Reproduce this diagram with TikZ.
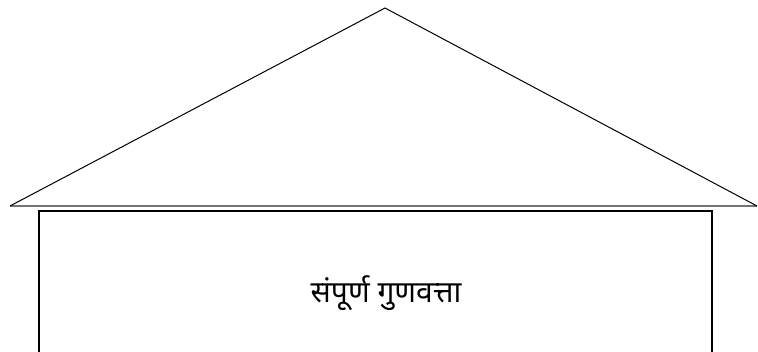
\documentclass[tikz,border=0pt]{standalone}
\usepackage{fontspec}
\newfontfamily\devfont[Script=Devanagari]{Noto Sans}
\usetikzlibrary{calc}
\tikzset{
  roofline/.style={line width=1pt,line join=miter},
  eaveline/.style={line width=1.6pt,black!55},
  wallline/.style={line width=1.4pt},
  walltext/.style={font=\devfont\fontsize{30}{34}\selectfont}
}

\begin{document}
\begin{tikzpicture}[x=1pt,y=-1pt]
  \useasboundingbox (0,0) rectangle (758,352);
  % roof
  \coordinate (apex) at (385,8);
  \coordinate (eaveL) at (10,206);
  \coordinate (eaveR) at (757,206);
  \draw[eaveline] (eaveL) -- (eaveR);
  \draw[roofline] (eaveL) -- (apex) -- (eaveR);
  % wall, open at the bottom
  \coordinate (wallTL) at (39,211);
  \coordinate (wallTR) at (712,211);
  \draw[wallline] (39,360) -- (wallTL) -- (wallTR) -- (712,360);
  \node[walltext] (quality) at (386,293) {संपूर्ण गुणवत्ता};
\end{tikzpicture}
\end{document}
